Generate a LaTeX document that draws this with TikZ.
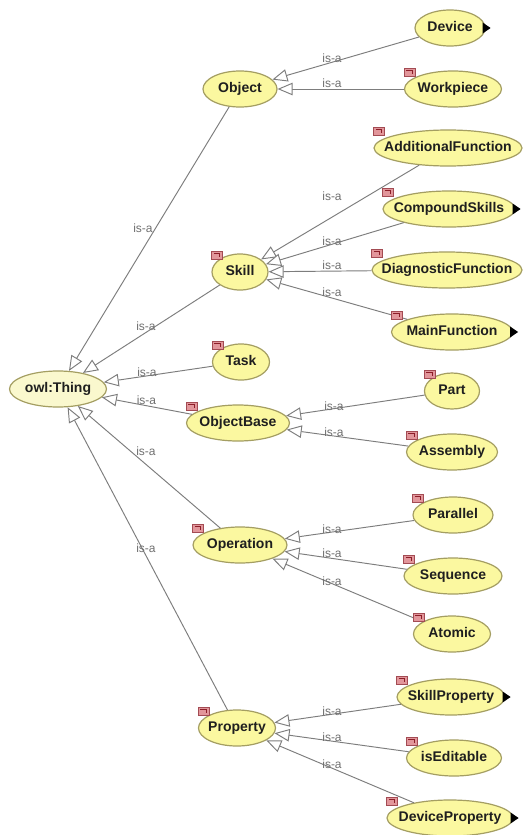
\documentclass[tikz,border=0pt]{standalone}
\usepackage{fontspec}
\setmainfont{Liberation Sans}
\usetikzlibrary{arrows.meta,shapes.geometric,calc}

\definecolor{clsfill}{RGB}{251,248,160}
\definecolor{rootfill}{RGB}{250,248,206}
\definecolor{clsborder}{RGB}{164,158,98}
\definecolor{edgegray}{RGB}{125,125,125}
\definecolor{labelgray}{RGB}{112,112,112}
\definecolor{tagfill}{RGB}{226,150,155}
\definecolor{tagdark}{RGB}{140,30,40}

\tikzset{
  cls/.style={ellipse, draw=clsborder, fill=clsfill, line width=1.2pt,
    inner sep=0pt, minimum height=36},
  clstext/.style={font=\bfseries\fontsize{14}{14}\selectfont, text=black!88,
    inner sep=0pt, text height=10pt, text depth=3pt},
  isaedge/.style={draw=edgegray, line width=0.95pt,
    -{Triangle[fill=white, length=15pt, width=12.5pt]}},
  isalabel/.style={font=\fontsize{12}{12}\selectfont, text=labelgray, inner sep=0pt},
  tagbox/.style={fill=tagfill, draw=tagdark!80, line width=0.5pt},
  tagmark/.style={draw=tagdark, line width=1pt},
}

% subclass edge from #1 to its parent #2, with the is-a label centred at #3
\newcommand\isa[3]{%
  \draw[isaedge] (#1) -- (#2);
  \node[isalabel] (#1-isa) at (#3) {is-a};
}
% small red class marker at the upper left of a node
\newcommand\classtag[1]{%
  \coordinate (#1-tl) at ($(#1.west |- #1.north)+(0,-2)$);
  \draw[tagbox] (#1-tl) rectangle ++(11,8);
  \draw[tagmark] ($(#1-tl)+(2.5,2.5)$) -- ++(6,0) -- ++(0,3);
}
% black expander triangle on the right of a node
\newcommand\moremark[1]{%
  \fill[black] ($(#1.east)+(-3,-5.5)$) -- ++(8,5.5) -- ++(-8,5.5) -- cycle;
}

\begin{document}
\begin{tikzpicture}[x=1pt, y=-1pt]
\useasboundingbox[fill=white] (0,0) rectangle (523,835);

% root
\node[cls, fill=rootfill, minimum width=97, label={[clstext]center:owl:Thing}] (thing) at (58,389) {};

% first level
\node[cls, minimum width=74,  label={[clstext]center:Object}]     (object)     at (240,89)  {};
\node[cls, minimum width=56,  label={[clstext]center:Skill}]      (skill)      at (240,272) {};
\node[cls, minimum width=57,  label={[clstext]center:Task}]       (task)       at (241,362) {};
\node[cls, minimum width=103, label={[clstext]center:ObjectBase}] (objectbase) at (238,423) {};
\node[cls, minimum width=94,  label={[clstext]center:Operation}]  (operation)  at (240,545) {};
\node[cls, minimum width=77,  label={[clstext]center:Property}]   (property)   at (237,728) {};

% second level
\node[cls, minimum width=70,  label={[clstext]center:Device}]             (device)     at (450,28)  {};
\node[cls, minimum width=97,  label={[clstext]center:Workpiece}]          (workpiece)  at (453,89)  {};
\node[cls, minimum width=148, label={[clstext]center:AdditionalFunction}] (addfunc)    at (448,148) {};
\node[cls, minimum width=132, label={[clstext]center:CompoundSkills}]     (compound)   at (449,209) {};
\node[cls, minimum width=150, label={[clstext]center:DiagnosticFunction}] (diagfunc)   at (447,270) {};
\node[cls, minimum width=121, label={[clstext]center:MainFunction}]       (mainfunc)   at (452,332) {};
\node[cls, minimum width=55,  label={[clstext]center:Part}]               (part)       at (452,391) {};
\node[cls, minimum width=91,  label={[clstext]center:Assembly}]           (assembly)   at (452,452) {};
\node[cls, minimum width=80,  label={[clstext]center:Parallel}]           (parallel)   at (453,515) {};
\node[cls, minimum width=98,  label={[clstext]center:Sequence}]           (sequence)   at (453,576) {};
\node[cls, minimum width=77,  label={[clstext]center:Atomic}]             (atomic)     at (452,634) {};
\node[cls, minimum width=108, label={[clstext]center:SkillProperty}]      (skillprop)  at (451,697) {};
\node[cls, minimum width=95,  label={[clstext]center:isEditable}]         (iseditable) at (454,758) {};
\node[cls, minimum width=126, label={[clstext]center:DeviceProperty}]     (deviceprop) at (450,818) {};

% subclass relations into the root
\isa{object}{thing}{143,228}
\isa{skill}{thing}{146,326}
\isa{task}{thing}{147,372}
\isa{objectbase}{thing}{146.5,400.5}
\isa{operation}{thing}{146,451.5}
\isa{property}{thing}{146,548}

% subclass relations into the first level
\isa{device}{object}{332,58.5}
\isa{workpiece}{object}{332,83.5}
\isa{addfunc}{skill}{332,196}
\isa{compound}{skill}{332,241.5}
\isa{diagfunc}{skill}{332,265}
\isa{mainfunc}{skill}{332,292.5}
\isa{part}{objectbase}{334,406}
\isa{assembly}{objectbase}{334,432.5}
\isa{parallel}{operation}{332,529}
\isa{sequence}{operation}{332,553}
\isa{atomic}{operation}{332,581}
\isa{skillprop}{property}{332,711}
\isa{iseditable}{property}{332,737.5}
\isa{deviceprop}{property}{332,764}

% class markers
\foreach \n in {skill,task,objectbase,operation,property,workpiece,addfunc,
  compound,diagfunc,mainfunc,part,assembly,parallel,sequence,atomic,
  skillprop,iseditable,deviceprop}{\classtag{\n}}

% nodes with further subclasses
\foreach \n in {device,compound,mainfunc,skillprop,deviceprop}{\moremark{\n}}
\end{tikzpicture}
\end{document}
